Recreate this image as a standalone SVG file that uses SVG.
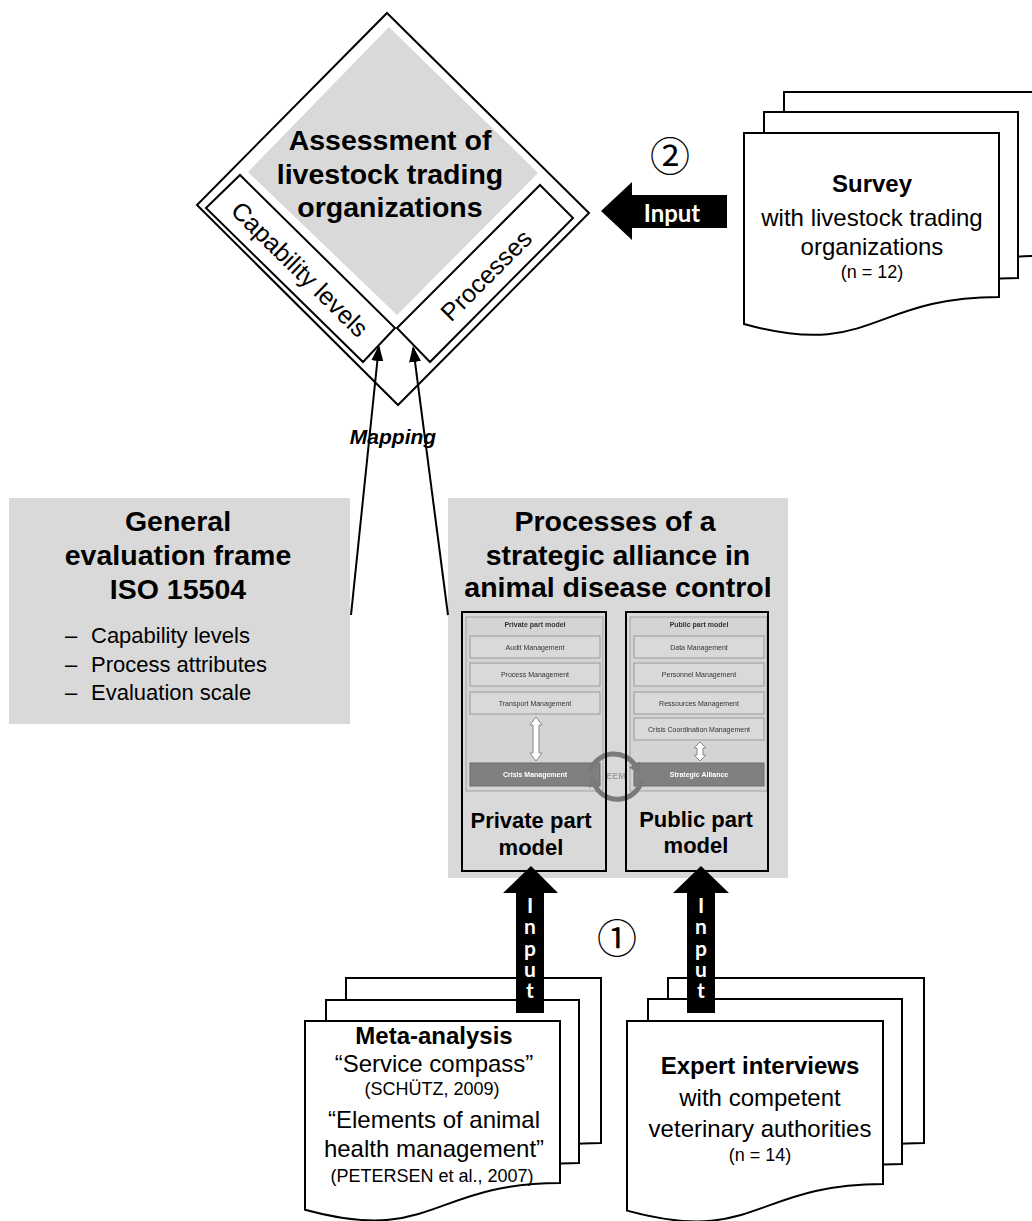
<svg xmlns="http://www.w3.org/2000/svg" width="1032" height="1221" viewBox="0 0 1032 1221">
<defs>
<style>
.t{font-family:"Liberation Sans",Arial,sans-serif;fill:#000;text-anchor:middle}
.h{font-size:28.5px;font-weight:bold}
.m{font-size:24px}
.mb{font-size:24px;font-weight:bold}
.s{font-size:18px}
.ln{fill:none;stroke:#000;stroke-width:2}
.doc{fill:#fff;stroke:#000;stroke-width:2}
.panel{fill:#d4d4d4;stroke:#a3a3a3;stroke-width:1}
.sub{fill:#d9d9d9;stroke:#9a9a9a;stroke-width:1}
.dark{fill:#808080;stroke:#6a6a6a;stroke-width:1}
.tiny{font-family:"Liberation Sans",Arial,sans-serif;font-size:7px;fill:#333;text-anchor:middle}
.tinyw{font-family:"Liberation Sans",Arial,sans-serif;font-size:7px;font-weight:bold;fill:#fff;text-anchor:middle}
.dbl{fill:#fff;stroke:#8a8a8a;stroke-width:1}
.wl{font-family:Lato,"DejaVu Sans",sans-serif;font-weight:bold;fill:#fff;text-anchor:middle}
.vl{font-family:Lato,"DejaVu Sans",sans-serif;font-weight:bold;fill:#fff;font-size:21px;writing-mode:vertical-rl;text-orientation:upright;letter-spacing:-3.7px}
.num{font-family:"Noto Sans CJK JP","DejaVu Sans",sans-serif;font-size:40px;fill:#000;text-anchor:middle;dominant-baseline:central}
</style>
<marker id="ah" markerUnits="userSpaceOnUse" markerWidth="16" markerHeight="12" refX="14" refY="6" orient="auto"><path d="M0,0 L16,6 L0,12 Z" fill="#000"/></marker>
<marker id="ga" markerUnits="userSpaceOnUse" markerWidth="12" markerHeight="13" refX="3" refY="6.5" orient="auto"><path d="M0,0 L11,6.5 L0,13 Z" fill="#7a7a7a"/></marker>
<filter id="soft" x="-5%" y="-5%" width="110%" height="110%"><feGaussianBlur stdDeviation="0.35"/></filter>
</defs>

<rect width="1032" height="1221" fill="#fff"/>

<!-- assessment diamond -->
<g id="assessment">
  <polygon points="387,13 589,213 398,405 197,205" fill="#fff" stroke="#000" stroke-width="2"/>
  <polygon points="389,27 538,173 397,315 248,172" fill="#d9d9d9"/>
  <polygon points="206,208 240,175 395,328 363,362" fill="#fff" stroke="#000" stroke-width="2"/>
  <polygon points="540,185 573,218 430,362 397,328" fill="#fff" stroke="#000" stroke-width="2"/>
  <text class="t h" x="390" y="150">Assessment of</text>
  <text class="t h" x="390" y="184">livestock trading</text>
  <text class="t h" x="390" y="217">organizations</text>
  <text class="t" font-size="25" dominant-baseline="central" transform="translate(300,269) rotate(44.6)">Capability levels</text>
  <text class="t" font-size="25" dominant-baseline="central" transform="translate(486,275) rotate(-45)">Processes</text>
</g>

<!-- survey document stack -->
<g id="survey">
  <path class="doc" d="M784,92 H1039 V256 C911.5,256 911.5,318.5 784,283 Z"/>
  <path class="doc" d="M764,112 H1018 V278 C891,278 891,341 764,305 Z"/>
  <path class="doc" d="M744,133 H999 V297 C871.5,297 871.5,359.5 744,324 Z"/>
  <text class="t mb" x="872" y="192">Survey</text>
  <text class="t m" x="872" y="226">with livestock trading</text>
  <text class="t m" x="872" y="255">organizations</text>
  <text class="t s" x="872" y="278">(n = 12)</text>
</g>

<!-- general evaluation frame -->
<g id="general-frame">
  <rect x="9" y="498" width="341" height="226" fill="#d9d9d9"/>
  <text class="t h" x="178" y="531">General</text>
  <text class="t h" x="178" y="565">evaluation frame</text>
  <text class="t h" x="178" y="599">ISO 15504</text>
  <g font-family="Liberation Sans, Arial, sans-serif" font-size="22" fill="#000">
    <text x="65" y="643">–</text><text x="91" y="643">Capability levels</text>
    <text x="65" y="672">–</text><text x="91" y="672">Process attributes</text>
    <text x="65" y="700">–</text><text x="91" y="700">Evaluation scale</text>
  </g>
</g>

<!-- strategic alliance processes -->
<g id="alliance-processes">
  <rect x="448" y="498" width="340" height="380" fill="#d9d9d9"/>
  <text class="t h" x="615" y="531">Processes of a</text>
  <text class="t h" x="618" y="565">strategic alliance in</text>
  <text class="t h" x="618" y="597">animal disease control</text>

  <g id="part-models-chart" filter="url(#soft)">
    <!-- private side -->
    <rect class="panel" x="466" y="617" width="137" height="174"/>
    <text class="tiny" x="535" y="627" font-weight="bold" fill="#222">Private part model</text>
    <rect class="sub" x="470" y="636" width="130" height="22"/>
    <text class="tiny" x="535" y="650">Audit Management</text>
    <rect class="sub" x="470" y="663" width="130" height="23"/>
    <text class="tiny" x="535" y="677">Process Management</text>
    <rect class="sub" x="470" y="692" width="130" height="22"/>
    <text class="tiny" x="535" y="706">Transport Management</text>
    <polygon class="dbl" points="536,717 542,725 539,725 539,753 542,753 536,761 530,753 533,753 533,725 530,725"/>
    <rect class="dark" x="470" y="763" width="130" height="23"/>
    <text class="tinyw" x="535" y="777">Crisis Management</text>
    <!-- public side -->
    <rect class="panel" x="630" y="617" width="137" height="174"/>
    <text class="tiny" x="699" y="627" font-weight="bold" fill="#222">Public part model</text>
    <rect class="sub" x="634" y="636" width="130" height="22"/>
    <text class="tiny" x="699" y="650">Data Management</text>
    <rect class="sub" x="634" y="663" width="130" height="23"/>
    <text class="tiny" x="699" y="677">Personnel Management</text>
    <rect class="sub" x="634" y="692" width="130" height="22"/>
    <text class="tiny" x="699" y="706">Ressources Management</text>
    <rect class="sub" x="634" y="718" width="130" height="22"/>
    <text class="tiny" x="699" y="732">Crisis Coordination Management</text>
    <polygon class="dbl" points="700,742 706,748 703,748 703,755 706,755 700,761 694,755 697,755 697,748 694,748"/>
    <rect class="dark" x="634" y="763" width="130" height="23"/>
    <text class="tinyw" x="699" y="777">Strategic Alliance</text>
    <!-- EEM cycle -->
    <text x="616" y="779" font-family="Liberation Sans, Arial, sans-serif" font-size="9" font-weight="bold" fill="#a0a0a0" text-anchor="middle">EEM</text>
    <path d="M590,772 A25,25 0 0 1 636,767" fill="none" stroke="#7a7a7a" stroke-width="5" marker-end="url(#ga)"/>
    <path d="M642,779 A25,25 0 0 1 594,783" fill="none" stroke="#7a7a7a" stroke-width="5" marker-end="url(#ga)"/>
  </g>

  <rect x="462" y="612" width="144" height="259" fill="none" stroke="#000" stroke-width="2"/>
  <rect x="626" y="612" width="142" height="259" fill="none" stroke="#000" stroke-width="2"/>
  <text class="t" font-size="22" font-weight="bold" x="531" y="828">Private part</text>
  <text class="t" font-size="22" font-weight="bold" x="531" y="855">model</text>
  <text class="t" font-size="22" font-weight="bold" x="696" y="827">Public part</text>
  <text class="t" font-size="22" font-weight="bold" x="696" y="853">model</text>
</g>

<!-- meta-analysis document stack -->
<g id="meta-analysis">
  <path class="doc" d="M346,978 H601 V1143 C473.5,1143 473.5,1206 346,1170.4 Z"/>
  <path class="doc" d="M326,1000 H579 V1163 C452.5,1163 452.5,1224.8 326,1189.6 Z"/>
  <path class="doc" d="M305,1021 H560 V1183 C432.5,1183 432.5,1244.7 305,1209.7 Z"/>
  <text class="t mb" x="434" y="1044">Meta-analysis</text>
  <text class="t m" x="434" y="1072">“Service compass”</text>
  <text class="t s" x="432" y="1095">(SCHÜTZ, 2009)</text>
  <text class="t m" x="434" y="1128">“Elements of animal</text>
  <text class="t m" x="434" y="1157">health management”</text>
  <text class="t s" x="432" y="1182">(PETERSEN et al., 2007)</text>
</g>

<!-- expert interviews document stack -->
<g id="expert-interviews">
  <path class="doc" d="M668,978 H924 V1143 C796,1143 796,1206 668,1170.4 Z"/>
  <path class="doc" d="M648,999 H902 V1164 C775,1164 775,1227 648,1191.4 Z"/>
  <path class="doc" d="M627,1021 H883 V1184 C755,1184 755,1245.8 627,1210.6 Z"/>
  <text class="t mb" x="760" y="1074">Expert interviews</text>
  <text class="t m" x="760" y="1106">with competent</text>
  <text class="t m" x="760" y="1137">veterinary authorities</text>
  <text class="t s" x="760" y="1161">(n = 14)</text>
</g>

<!-- step numbers -->
<g id="steps">
  <text class="num" x="670" y="154">②</text>
  <text class="num" x="617" y="936">①</text>
</g>

<!-- connectors -->
<g id="connectors">
  <path class="ln" d="M351,615 L378.8,347" marker-end="url(#ah)"/>
  <path class="ln" d="M448,615 L413.2,348" marker-end="url(#ah)"/>
  <text x="393" y="444" font-family="Liberation Sans, Arial, sans-serif" font-size="21" font-weight="bold" font-style="italic" fill="#000" text-anchor="middle">Mapping</text>

  <polygon points="601,211 632,182 632,195 727,195 727,228 632,228 632,240" fill="#000"/>
  <text class="wl" font-size="24" x="672" y="222">Input</text>

  <!-- upright stacked labels on the vertical arrows -->
  <polygon points="531,866 558,893 544,893 544,1013 516,1013 516,893 503,893" fill="#000"/>
  <text class="vl" x="530" y="892">Input</text>
  <polygon points="701,866 729,893 715,893 715,1013 687,1013 687,893 673,893" fill="#000"/>
  <text class="vl" x="701" y="892">Input</text>
</g>
</svg>
